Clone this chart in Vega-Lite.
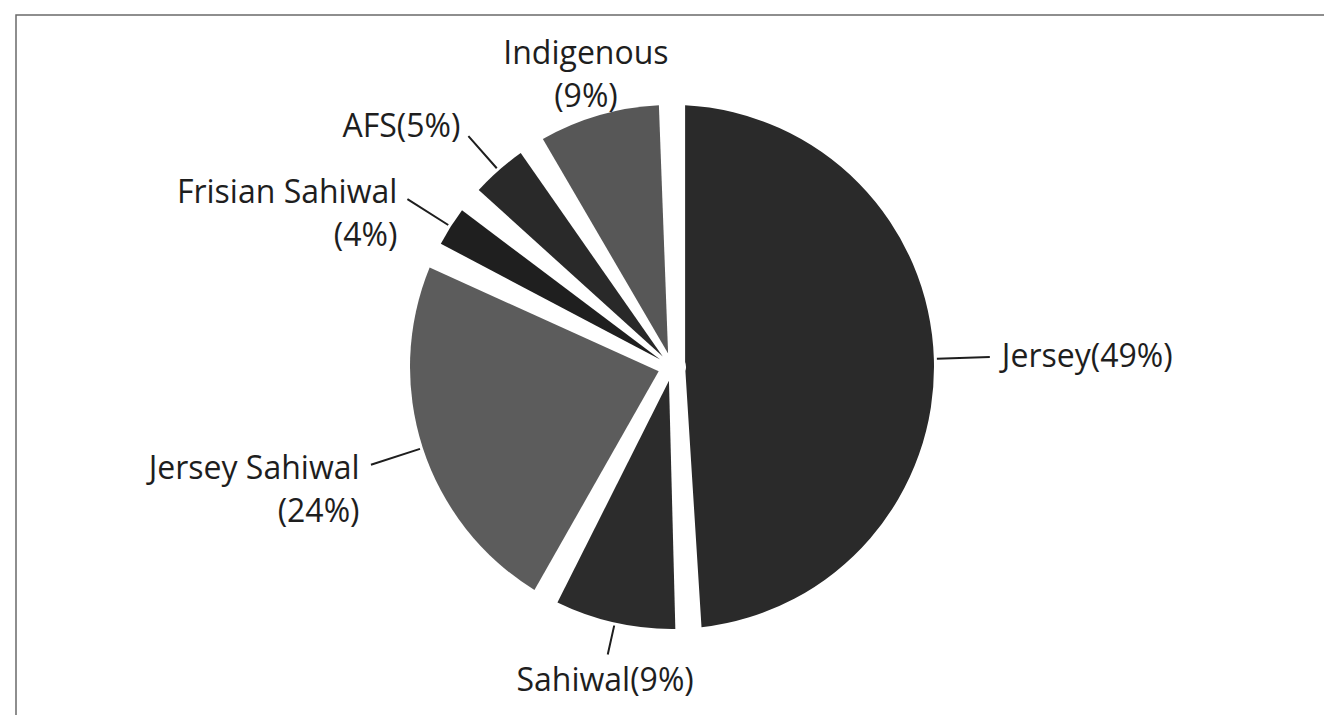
{
  "$schema": "https://vega.github.io/schema/vega-lite/v6.json",
  "autosize": {"type": "fit", "contains": "padding"},
  "width": 1324,
  "height": 715,
  "padding": {"left": 16, "top": 15, "right": -4, "bottom": -4},
  "background": "white",
  "view": {"stroke": "#6a6a6a", "strokeWidth": 1.5},
  "data": {
    "values": [
      {"breed": "Jersey", "label": "Jersey(49%)", "pct": 49, "order": 1},
      {"breed": "Sahiwal", "label": "Sahiwal(9%)", "pct": 9, "order": 2},
      {"breed": "Jersey Sahiwal", "label": "Jersey Sahiwal\n(24%)", "pct": 24, "order": 3},
      {"breed": "Frisian Sahiwal", "label": "Frisian Sahiwal\n(4%)", "pct": 4, "order": 4},
      {"breed": "AFS", "label": "AFS(5%)", "pct": 5, "order": 5},
      {"breed": "Indigenous", "label": "Indigenous\n(9%)", "pct": 9, "order": 6}
    ]
  },
  "encoding": {
    "theta": {"field": "pct", "type": "quantitative", "stack": true},
    "order": {"field": "order", "type": "quantitative"}
  },
  "layer": [
    {
      "mark": {"type": "arc", "outerRadius": 262, "innerRadius": 14, "padAngle": 0.1},
      "encoding": {
        "color": {
          "field": "breed",
          "type": "nominal",
          "scale": {
            "domain": ["Jersey", "Sahiwal", "Jersey Sahiwal", "Frisian Sahiwal", "AFS", "Indigenous"],
            "range": ["#2a2a2a", "#2c2c2c", "#5c5c5c", "#1f1f1f", "#292929", "#575757"]
          },
          "legend": null
        }
      }
    },
    {
      "mark": {
        "type": "arc",
        "outerRadius": {"expr": "288 + 30 * abs(sin(PI * (datum.pct_start + datum.pct_end) / 100))"},
        "innerRadius": 265,
        "padAngle": 3.1,
        "filled": false,
        "stroke": "#1e1e1e",
        "strokeWidth": 2,
        "strokeOpacity": {"expr": "((datum.pct_start + datum.pct_end) / 2 > 90 || (datum.pct_start + datum.pct_end) / 2 < 10) ? 0 : 1"}
      }
    },
    {
      "mark": {
        "type": "text",
        "radius": {"expr": "300 + 30 * abs(sin(PI * (datum.pct_start + datum.pct_end) / 100))"},
        "font": "Open Sans",
        "fontSize": 32,
        "lineBreak": "\n",
        "lineHeight": 43,
        "fill": "#1e1e1e",
        "align": {"expr": "((datum.pct_start + datum.pct_end) / 2 > 10 && (datum.pct_start + datum.pct_end) / 2 < 37.5) ? 'left' : ((datum.pct_start + datum.pct_end) / 2 > 62.5 && (datum.pct_start + datum.pct_end) / 2 <= 90) ? 'right' : 'center'"},
        "baseline": {"expr": "((datum.pct_start + datum.pct_end) / 2 > 37.5 && (datum.pct_start + datum.pct_end) / 2 < 62.5) ? 'top' : ((datum.pct_start + datum.pct_end) / 2 > 90 || (datum.pct_start + datum.pct_end) / 2 < 10) ? 'bottom' : 'middle'"}
      },
      "encoding": {"text": {"field": "label"}}
    }
  ]
}
